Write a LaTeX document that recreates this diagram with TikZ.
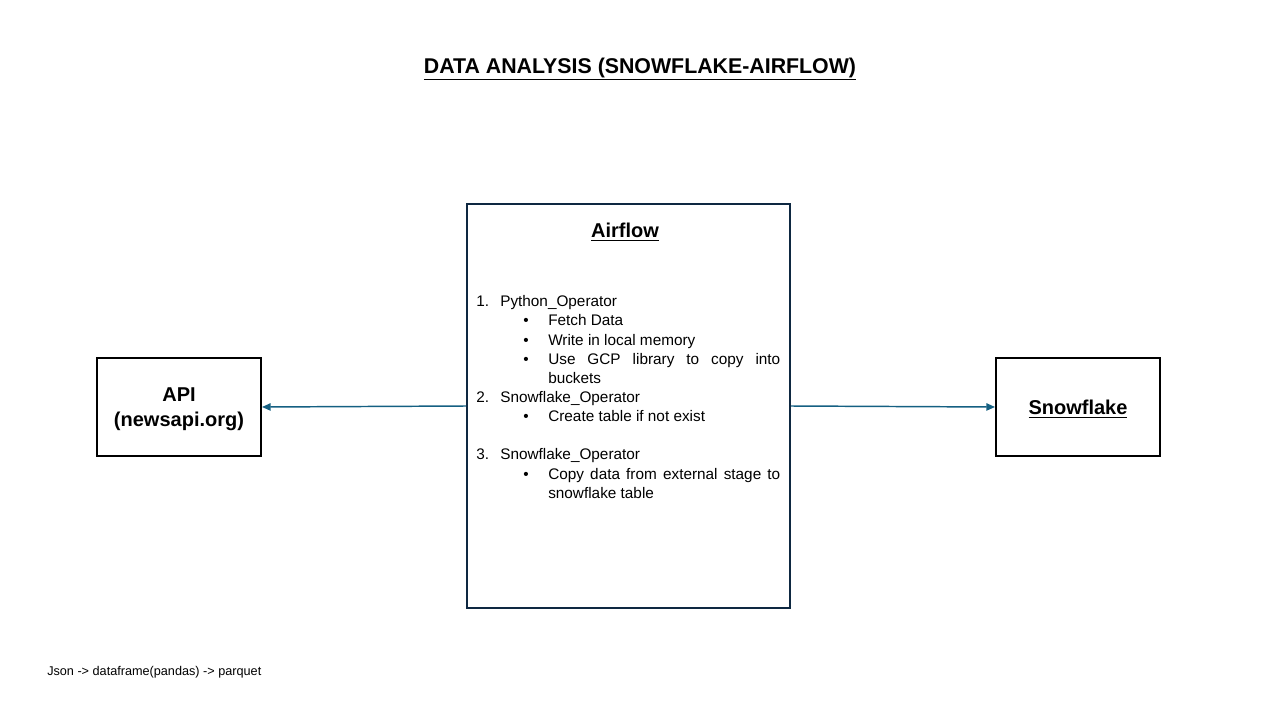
\documentclass[tikz,border=0pt]{standalone}
\usepackage{fontspec}
\setmainfont{Liberation Sans}
\usetikzlibrary{arrows.meta}
\definecolor{navy}{RGB}{14,40,65}
\definecolor{arrowblue}{RGB}{21,96,130}
\hyphenpenalty=10000
\begin{document}
\begin{tikzpicture}[x=0.75pt,y=-0.75pt,
  box/.style={draw,line width=1.5pt,inner sep=0pt},
  lbl/.style={font=\fontsize{15}{18.75}\selectfont\bfseries,align=center,inner sep=0pt},
  listline/.style={anchor=base west,inner sep=0pt,font=\fontsize{11.5}{14.5}\selectfont},
  point/.style={listline,text width=174pt,align=justify},
  link/.style={draw=arrowblue,line width=1.1pt,-{Triangle[length=6.5pt,width=5.5pt]}}]
          \useasboundingbox (0,0) rectangle (1280,720);
          \node[font=\fontsize{16}{19}\selectfont\bfseries] (title) at (640,69) {\underline{DATA ANALYSIS (SNOWFLAKE-AIRFLOW)}};
          \node[box,minimum width=123pt,minimum height=73.5pt] (api) at (179,407) {};
          \node[box,minimum width=123pt,minimum height=73.5pt] (snow) at (1078,407) {};
          \node[box,draw=navy,minimum width=242.25pt,minimum height=303pt] (airflow) at (628.5,406) {};
          \node[lbl] (apitext) at (179,409) {API\\(newsapi.org)};
          \node[lbl] (snowtext) at (1078,409) {\underline{Snowflake}};
          \node[lbl] (airtext) at (625,232) {\underline{Airflow}};
          \node[listline] (n1) at (476,306) {1.};
          \node[listline] (s1) at (500,306) {Python\_Operator};
          \node[listline] (b1) at (523,325.5) {\textbullet};
          \node[listline] (t1) at (548,325.5) {Fetch Data};
          \node[listline] (b2) at (523,345) {\textbullet};
          \node[listline] (t2) at (548,345) {Write in local memory};
          \node[listline] (b3) at (523,364) {\textbullet};
          \node[point] (t3) at (548,364) {Use GCP library to copy into buckets};
          \node[listline] (n2) at (476,402) {2.};
          \node[listline] (s2) at (500,402) {Snowflake\_Operator};
          \node[listline] (b4) at (523,421) {\textbullet};
          \node[listline] (t4) at (548,421) {Create table if not exist};
          \node[listline] (n3) at (476,459) {3.};
          \node[listline] (s3) at (500,459) {Snowflake\_Operator};
          \node[listline] (b5) at (523,479) {\textbullet};
          \node[point] (t5) at (548,479) {Copy data from external stage to snowflake table};
          \draw[link] (airflow.west) -- (api.east);
          \draw[link] (airflow.east) -- (snow.west);
          \node[anchor=base west,inner sep=0pt,font=\fontsize{9.5}{11}\selectfont] (note) at (47,675) {Json -> dataframe(pandas) -> parquet};
        \end{tikzpicture}
\end{document}
